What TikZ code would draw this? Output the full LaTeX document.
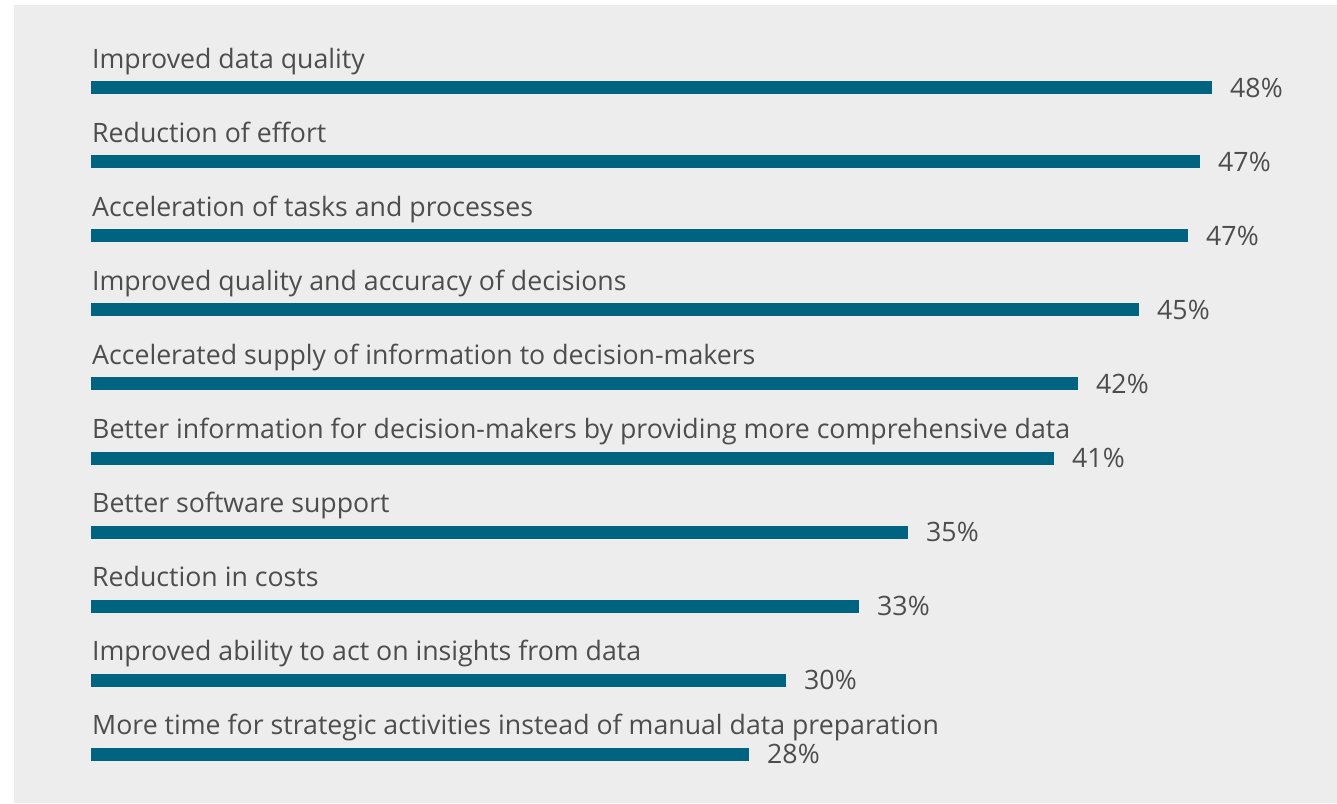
\documentclass[tikz,border=0pt]{standalone}
\usepackage{fontspec}
\setmainfont{Open Sans}
\definecolor{bgGray}{HTML}{EDEDED}
\definecolor{barTeal}{HTML}{00637F}
\definecolor{txtGray}{HTML}{4D4D4D}

\begin{document}
\begin{tikzpicture}[x=1pt, y=-1pt,
    lbl/.style={anchor=base west, inner sep=0pt, text=txtGray, font=\fontsize{26.7}{30}\selectfont},
    pct/.style={anchor=base west, inner sep=0pt, text=txtGray, font=\fontsize{26.7}{30}\selectfont},
    bar/.style={fill=barTeal}]
    \useasboundingbox (0, 0) rectangle (1337, 803);
    % 背景を灰色に塗る
    \fill[bgGray] (14, 5) rectangle (1337, 803);

    \node[lbl] (L1) at (92, 68) {Improved data quality};
    \node[lbl] (L2) at (92, 142.1) {Reduction of effort};
    \node[lbl] (L3) at (92, 216.2) {Acceleration of tasks and processes};
    \node[lbl] (L4) at (92, 290.3) {Improved quality and accuracy of decisions};
    \node[lbl] (L5) at (92, 364.4) {Accelerated supply of information to decision-makers};
    \node[lbl] (L6) at (92, 438.5) {Better information for decision-makers by providing more comprehensive data};
    \node[lbl] (L7) at (92, 512.6) {Better software support};
    \node[lbl] (L8) at (92, 586.7) {Reduction in costs};
    \node[lbl] (L9) at (92, 660.8) {Improved ability to act on insights from data};
    \node[lbl] (L10) at (92, 734.9) {More time for strategic activities instead of manual data preparation};

    % 棒グラフ
    \fill[bar] (91, 81) rectangle (1212, 94);
    \fill[bar] (91, 155.1) rectangle (1200, 168.1);
    \fill[bar] (91, 229.2) rectangle (1188, 242.2);
    \fill[bar] (91, 303.3) rectangle (1139, 316.3);
    \fill[bar] (91, 377.4) rectangle (1078, 390.4);
    \fill[bar] (91, 451.5) rectangle (1054, 464.5);
    \fill[bar] (91, 525.6) rectangle (908, 538.6);
    \fill[bar] (91, 599.7) rectangle (859, 612.7);
    \fill[bar] (91, 673.8) rectangle (786, 686.8);
    \fill[bar] (91, 747.9) rectangle (749, 760.9);

    \node[pct] (P1) at (1230, 97) {48\%};
    \node[pct] (P2) at (1218, 171.1) {47\%};
    \node[pct] (P3) at (1206, 245.2) {47\%};
    \node[pct] (P4) at (1157, 319.3) {45\%};
    \node[pct] (P5) at (1096, 393.4) {42\%};
    \node[pct] (P6) at (1072, 467.5) {41\%};
    \node[pct] (P7) at (926, 541.6) {35\%};
    \node[pct] (P8) at (877, 615.7) {33\%};
    \node[pct] (P9) at (804, 689.8) {30\%};
    \node[pct] (P10) at (767, 763.9) {28\%};

  \end{tikzpicture}
\end{document}
